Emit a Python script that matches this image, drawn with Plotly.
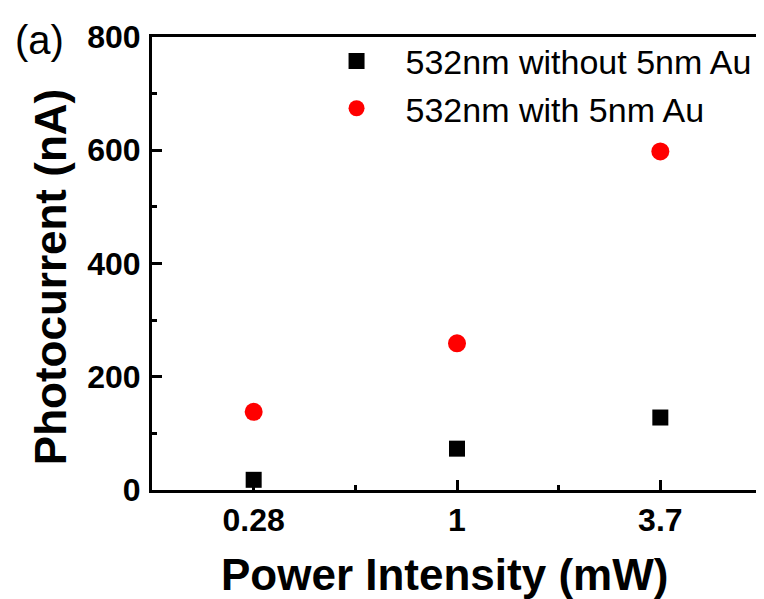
import plotly.graph_objects as go

categories = ["0.28", "1", "3.7"]
without_au = [18, 73, 128]
with_au = [138, 259, 598]
series_names = ["532nm without 5nm Au", "532nm with 5nm Au"]
x_title = "Power Intensity (mW)"
y_title = "Photocurrent (nA)"

xpos = list(range(len(categories)))
FONT = "Liberation Sans, Arial, sans-serif"

fig = go.Figure()
fig.add_trace(go.Scatter(x=xpos, y=without_au, mode="markers", name=series_names[0],
                         marker=dict(symbol="square", size=16, color="black")))
fig.add_trace(go.Scatter(x=xpos, y=with_au, mode="markers", name=series_names[1],
                         marker=dict(symbol="circle", size=18, color="red")))

axis_font = dict(family=FONT, size=32, color="black", weight="bold")
fig.update_layout(
    width=756, height=591,
    margin=dict(l=144, r=2, t=29, b=109),
    plot_bgcolor="white", paper_bgcolor="white",
    showlegend=True,
    legend=dict(x=0.255, y=1.01, xanchor="left", yanchor="top",
                font=dict(family=FONT, size=34, color="black"),
                bgcolor="rgba(0,0,0,0)", itemsizing="trace", itemwidth=88, tracegroupgap=0),
    font=dict(family=FONT, color="black"),
)
fig.update_xaxes(
    range=[-0.5, len(categories) - 0.5], tickvals=xpos, ticktext=categories,
    showline=True, linecolor="black", linewidth=3, mirror=True,
    ticks="inside", ticklen=10, tickwidth=2.5, tickcolor="black",
    minor=dict(tickvals=[i + 0.5 for i in xpos], ticks="inside", ticklen=5, tickwidth=2.5, tickcolor="black"),
    showgrid=False, zeroline=False, tickfont=axis_font, ticklabelstandoff=0,
    automargin=False,
)
fig.update_yaxes(
    range=[0, 800], dtick=200,
    showline=True, linecolor="black", linewidth=3, mirror=True,
    ticks="inside", ticklen=10, tickwidth=2.5, tickcolor="black",
    minor=dict(dtick=100, ticks="inside", ticklen=5, tickwidth=2.5, tickcolor="black"),
    showgrid=False, zeroline=False, tickfont=axis_font, ticklabelstandoff=2,
    automargin=False,
)
title_font = dict(family=FONT, size=44, color="black", weight="bold")
fig.add_annotation(text=x_title, xref="paper", yref="paper", x=0.480, y=-0.186,
                   xanchor="center", yanchor="middle", showarrow=False, font=title_font)
fig.add_annotation(text=y_title, xref="paper", yref="paper", x=-0.167, y=0.470, textangle=-90,
                   xanchor="center", yanchor="middle", showarrow=False, font=title_font)
fig.add_annotation(text="(a)", xref="paper", yref="paper", x=-0.228, y=0.993, xanchor="left", yanchor="middle",
                   showarrow=False, font=dict(family=FONT, size=40, color="black"))
fig.write_html("out.html")
